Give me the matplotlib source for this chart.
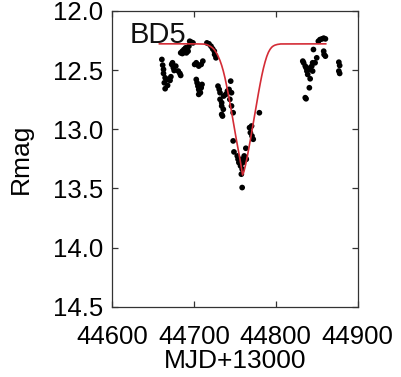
import matplotlib
matplotlib.use("Agg")
import matplotlib.pyplot as plt

plt.rcParams['font.family'] = ['Liberation Sans', 'DejaVu Sans']

# observed photometry (MJD+13000, R magnitude)
obs_mjd = [44661, 44662, 44663, 44663, 44665, 44664, 44665, 44668, 44668, 44671, 44672, 44673, 44674, 44675, 44676, 44678, 44681, 44683, 44684,
           44684, 44686, 44688, 44690, 44691, 44692, 44693, 44694, 44695, 44697, 44699, 44686, 44689,
           44701, 44703, 44706, 44709, 44711, 44703, 44704, 44705, 44706, 44707, 44708, 44706, 44709, 44710,
           44716, 44718.5, 44721, 44723, 44725, 44725.4, 44727,
           44729.5, 44731, 44732, 44732, 44734, 44734, 44736, 44734, 44735, 44736.5, 44739, 44741, 44743, 44745, 44746, 44744, 44746, 44748,
           44748, 44749, 44753, 44754, 44755, 44757, 44758, 44760, 44761.5, 44763, 44764, 44763.5, 44759, 44758, 44759,
           44768, 44770.5, 44769, 44771, 44772.5, 44780,
           44833, 44834, 44836, 44837, 44838, 44839, 44840, 44842, 44844, 44845, 44846, 44848, 44842, 44841, 44837, 44836, 44845, 44850,
           44852, 44854, 44856.5, 44858.5, 44860.6, 44858.5, 44859, 44860.6,
           44877, 44878, 44877, 44878]
obs_rmag = [12.410, 12.458, 12.494, 12.528, 12.565, 12.607, 12.657, 12.629, 12.579, 12.587, 12.556, 12.452, 12.438, 12.480, 12.503, 12.466, 12.508, 12.528, 12.545,
            12.354, 12.340, 12.326, 12.312, 12.354, 12.326, 12.340, 12.298, 12.256, 12.264, 12.270, 12.360, 12.350,
            12.452, 12.438, 12.466, 12.452, 12.424, 12.579, 12.607, 12.635, 12.663, 12.677, 12.691, 12.705, 12.649, 12.621,
            12.270, 12.278, 12.298, 12.320, 12.340, 12.368, 12.396,
            12.635, 12.663, 12.691, 12.747, 12.775, 12.803, 12.831, 12.874, 12.888, 12.719, 12.705, 12.677, 12.663, 12.593, 12.691, 12.747, 12.803, 12.860,
            13.098, 13.191, 13.225, 13.253, 13.281, 13.309, 13.253, 13.281, 13.225, 13.239, 13.253, 13.160, 13.337, 13.379, 13.492,
            12.986, 12.972, 13.028, 13.056, 13.084, 12.860,
            12.424, 12.438, 12.466, 12.480, 12.508, 12.537, 12.494, 12.480, 12.466, 12.438, 12.326, 12.438, 12.573, 12.649, 12.742, 12.733, 12.508, 12.396,
            12.256, 12.242, 12.236, 12.230, 12.236, 12.340, 12.368, 12.382,
            12.433, 12.461, 12.508, 12.528]

# fitted dip model
fit_mjd = [44658, 44700, 44712, 44715, 44717, 44719, 44721, 44723, 44725, 44727, 44729, 44732, 44734, 44736, 44738, 44740, 44742, 44744,
           44746, 44748, 44750, 44752, 44754, 44756, 44758, 44759.5, 44761, 44763, 44765, 44767, 44769, 44771, 44773, 44775,
           44777, 44779, 44781, 44783, 44785, 44787, 44789, 44791, 44793, 44795, 44797, 44799, 44802, 44806, 44861]
fit_rmag = [12.278, 12.278, 12.280, 12.283, 12.288, 12.295, 12.303, 12.313, 12.328, 12.348, 12.372, 12.420, 12.460, 12.508, 12.565, 12.630, 12.700, 12.775,
            12.850, 12.930, 13.010, 13.090, 13.165, 13.240, 13.320, 13.385, 13.360, 13.305, 13.240, 13.165, 13.090, 13.010, 12.930, 12.850,
            12.770, 12.690, 12.615, 12.545, 12.483, 12.430, 12.385, 12.350, 12.325, 12.307, 12.296, 12.289, 12.283, 12.279, 12.278]

xticks = [44600, 44700, 44800, 44900]
yticks = [12.0, 12.5, 13.0, 13.5, 14.0, 14.5]

fig = plt.figure(figsize=(4.01, 3.77), dpi=100)
ax = fig.add_axes([0.279, 0.186, 0.613, 0.785])

ax.scatter(obs_mjd, obs_rmag, s=17, c='black', edgecolors='none', zorder=2)
ax.plot(fit_mjd, fit_rmag, color='#d42c36', lw=1.2, zorder=3)

ax.set_xlim(44600, 44900)
ax.set_ylim(14.5, 12.0)
ax.set_xticks(xticks)
ax.set_yticks(yticks)
ax.set_yticklabels([f"{v:.1f}" for v in yticks])
ax.tick_params(direction='in', top=True, right=True, length=4, width=0.9,
               labelsize=18.5, color='#333333')
ax.tick_params(axis='x', pad=13)
ax.tick_params(axis='y', pad=6)
for s in ax.spines.values():
    s.set_linewidth(0.9)
    s.set_color('#333333')

ax.set_xlabel('MJD+13000', fontsize=19, labelpad=0)
ax.set_ylabel('Rmag', fontsize=19, labelpad=15)
ax.text(0.073, 0.892, 'BD5', transform=ax.transAxes, fontsize=21,
        ha='left', va='baseline', color='#111111')

fig.savefig('out.png', dpi=100)
